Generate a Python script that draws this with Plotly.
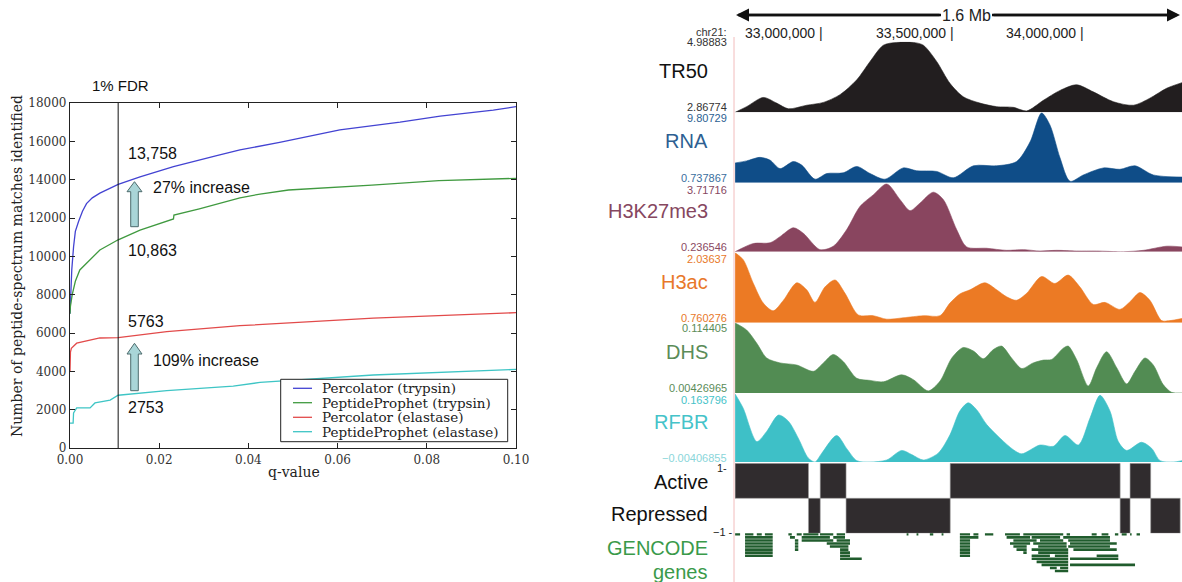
import plotly.graph_objects as go

W, H = 1182, 582


def px(x):
    return x / W


def py(y):
    return 1 - y / H


# ---------------- Left panel: PSMs identified vs q-value ----------------
q_perc_trypsin = [0, 0.0002, 0.0004, 0.0008, 0.0012, 0.0019, 0.0028, 0.0037, 0.0050, 0.0067,
                  0.0108, 0.0157, 0.0232, 0.0329, 0.0381, 0.0470, 0.0553, 0.0605, 0.0740,
                  0.0830, 0.0949, 0.1000]
n_perc_trypsin = [7000, 8700, 9300, 10500, 11300, 11800, 12350, 12750, 13050, 13300,
                  13758, 14150, 14680, 15250, 15550, 15950, 16350, 16600, 17000,
                  17320, 17630, 17810]

q_pp_trypsin = [0, 0.0001, 0.0005, 0.0012, 0.0022, 0.0045, 0.0067, 0.0108, 0.0157, 0.0232,
                0.0233, 0.0290, 0.0329, 0.0381, 0.0426, 0.0490, 0.0677, 0.0827, 0.1000]
n_pp_trypsin = [7000, 7400, 8000, 8700, 9290, 9800, 10330, 10863, 11370, 11950,
                12150, 12480, 12730, 13050, 13250, 13460, 13720, 13950, 14070]

q_perc_elastase = [0, 0.0001, 0.0003, 0.0015, 0.0067, 0.0108, 0.0217, 0.0381, 0.0680, 0.1000]
n_perc_elastase = [4000, 5000, 5200, 5470, 5740, 5763, 6070, 6380, 6780, 7060]

q_pp_elastase = [0, 0.0007, 0.0008, 0.0015, 0.0045, 0.0056, 0.0090, 0.0108, 0.0217, 0.0366,
                 0.0426, 0.0680, 0.1000]
n_pp_elastase = [1300, 1300, 1830, 2090, 2090, 2350, 2500, 2753, 2990, 3230,
                 3420, 3810, 4100]

series_names = ["Percolator (trypsin)", "PeptideProphet (trypsin)",
                "Percolator (elastase)", "PeptideProphet (elastase)"]
series_colors = ["#4343d2", "#409a40", "#e24a4a", "#3ec5c5"]

fdr_q = 0.0108
x_ticks = [0, 0.02, 0.04, 0.06, 0.08, 0.10]
y_ticks = list(range(0, 18001, 2000))

# ---------------- Right panel: genome browser tracks (chr21, Mb) ----------------
tr50_pos = [32.666, 32.710, 32.774, 32.825, 32.870, 32.940, 33.004, 33.068, 33.132, 33.183,
            33.234, 33.285, 33.349, 33.387, 33.438, 33.489, 33.540, 33.604, 33.668, 33.732,
            33.783, 33.847, 33.911, 33.974, 34.038, 34.115, 34.192, 34.255, 34.319, 34.378]
tr50_val = [0, 8, 21, 13, 5, 10, 14, 25, 46, 72, 95, 99, 99, 95, 72, 41, 22, 13, 8, 7,
            2, 17, 31, 39, 29, 15, 10, 20, 34, 42]

rna_pos = [32.666, 32.710, 32.761, 32.800, 32.838, 32.889, 32.921, 32.972, 33.017, 33.080,
           33.132, 33.183, 33.240, 33.310, 33.361, 33.438, 33.502, 33.579, 33.668, 33.744,
           33.796, 33.840, 33.872, 33.911, 33.949, 34.000, 34.077, 34.140, 34.198, 34.268, 34.378]
rna_val = [28, 31, 36, 32, 20, 30, 25, 5, 13, 14, 23, 13, 5, 21, 17, 16, 7, 24, 24, 30,
           58, 99, 82, 35, 2, 11, 21, 19, 24, 11, 8]

k27_pos = [32.666, 32.736, 32.800, 32.838, 32.889, 32.927, 32.991, 33.042, 33.093, 33.144,
           33.195, 33.247, 33.298, 33.336, 33.374, 33.425, 33.464, 33.515, 33.553, 33.630,
           33.706, 33.770, 33.834, 33.898, 33.974, 34.051, 34.153, 34.230, 34.319, 34.378]
k27_val = [0, 12, 13, 22, 35, 27, 3, 8, 32, 66, 83, 99, 76, 60, 71, 87, 76, 32, 7, 5,
           2, 3, 1, 2, 1, 1, 0, 2, 8, 7]

h3ac_pos = [32.666, 32.697, 32.736, 32.774, 32.812, 32.851, 32.902, 32.940, 32.972, 33.010,
            33.049, 33.087, 33.138, 33.195, 33.247, 33.310, 33.387, 33.451, 33.489, 33.527,
            33.566, 33.623, 33.668, 33.706, 33.744, 33.783, 33.840, 33.891, 33.942, 33.987,
            34.038, 34.083, 34.140, 34.179, 34.217, 34.255, 34.300, 34.332, 34.378]
h3ac_val = [100, 90, 56, 28, 17, 32, 57, 47, 29, 51, 61, 42, 11, 10, 5, 7, 10, 10, 28, 41,
            47, 57, 47, 37, 32, 42, 66, 56, 68, 51, 26, 29, 19, 30, 43, 32, 3, 3, 6]

dhs_pos = [32.666, 32.710, 32.749, 32.787, 32.838, 32.902, 32.966, 33.004, 33.042, 33.080,
           33.132, 33.183, 33.234, 33.304, 33.349, 33.406, 33.451, 33.496, 33.540, 33.579,
           33.617, 33.655, 33.687, 33.725, 33.764, 33.808, 33.847, 33.879, 33.923, 33.942,
           33.974, 34.019, 34.051, 34.089, 34.128, 34.166, 34.198, 34.236, 34.268, 34.306,
           34.338, 34.378]
dhs_val = [100, 90, 71, 50, 43, 40, 31, 43, 55, 45, 21, 18, 16, 26, 19, 3, 17, 50, 65, 60,
           49, 62, 67, 50, 35, 43, 47, 48, 64, 67, 48, 10, 36, 59, 36, 13, 31, 50, 40, 12,
           1, 0]

rfbr_pos = [32.666, 32.697, 32.749, 32.787, 32.832, 32.870, 32.908, 32.946, 32.972, 32.998,
            33.055, 33.093, 33.132, 33.183, 33.247, 33.304, 33.342, 33.387, 33.444, 33.489,
            33.527, 33.559, 33.591, 33.630, 33.681, 33.732, 33.764, 33.834, 33.885, 33.930,
            33.981, 34.026, 34.064, 34.102, 34.134, 34.166, 34.223, 34.262, 34.294, 34.345, 34.378]
rfbr_val = [100, 79, 30, 45, 69, 60, 35, 6, 0, 13, 39, 20, 2, 0, 3, 17, 11, 3, 13, 40,
            75, 87, 77, 55, 35, 18, 12, 25, 23, 39, 25, 65, 98, 75, 30, 17, 29, 20, 2, 0, 2]

track_names = ["TR50", "RNA", "H3K27me3", "H3ac", "DHS", "RFBR"]
track_max_labels = ["4.98883", "9.80729", "3.71716", "2.03637", "0.114405", "0.163796"]
track_min_labels = ["2.86774", "0.737867", "0.236546", "0.760276", "0.00426965", "\u22120.00406855"]
track_fill = ["#221e1f", "#0f4d88", "#89455f", "#ec7a24", "#528c53", "#3ec0c7"]
track_text = ["#111111", "#2d5f92", "#86475f", "#e8782a", "#5b8c58", "#45c3c9"]
track_min_text = ["#333333", "#3a6e9e", "#8b4a63", "#e8782a", "#5b8c58", "#8ad6da"]

state_start = [32.666, 32.947, 32.992, 33.091, 33.490, 34.141, 34.179, 34.258]
state_end = [32.947, 32.992, 33.091, 33.490, 34.141, 34.179, 34.258, 34.371]
state_value = [1, -1, 1, -1, 1, -1, 1, -1]   # 1 = Active, -1 = Repressed

gene_start = [32.666, 32.704, 32.749, 32.780, 32.870, 32.902, 32.927, 32.991, 33.055, 33.323,
              33.361, 33.412, 33.457, 33.527, 33.579, 33.623, 33.700, 33.770, 33.936, 34.032,
              34.070, 34.121, 34.147, 34.179, 34.204,
              32.704, 32.876, 32.921, 33.042, 33.527, 33.706, 33.802, 33.923,
              32.704, 32.895, 32.921, 33.055, 33.527, 33.732, 33.834, 33.942,
              32.704, 32.895, 33.017, 33.527, 33.719, 33.808, 33.949,
              32.704, 32.895, 33.029, 33.527, 33.732, 33.827, 33.942,
              32.704, 32.895, 33.068, 33.527, 33.744, 33.802, 33.962,
              32.704, 33.068, 33.527, 33.770, 33.827,
              32.704, 33.068, 33.527, 33.802, 33.891, 34.051,
              33.068, 33.802, 33.949,
              33.821,
              33.840, 33.949,
              33.872, 33.911,
              33.891]
gene_end = [32.685, 32.736, 32.768, 32.810, 32.883, 32.921, 32.985, 33.042, 33.087, 33.330,
            33.368, 33.425, 33.464, 33.566, 33.598, 33.655, 33.757, 33.923, 33.949, 34.051,
            34.096, 34.134, 34.166, 34.185, 34.217,
            32.810, 32.895, 33.029, 33.087, 33.598, 33.796, 33.911, 34.102,
            32.810, 32.908, 33.042, 33.106, 33.566, 33.821, 33.923, 34.102,
            32.810, 32.908, 33.106, 33.566, 33.796, 33.936, 34.128,
            32.810, 32.908, 33.100, 33.566, 33.783, 33.936, 34.102,
            32.810, 32.908, 33.100, 33.566, 33.783, 33.942, 34.128,
            32.810, 33.106, 33.566, 33.783, 33.942,
            32.810, 33.106, 33.566, 33.872, 33.942, 34.134,
            33.151, 33.942, 34.134,
            33.942,
            33.942, 34.198,
            33.898, 33.942,
            33.942]
gene_row = [0] * 25 + [1] * 8 + [2] * 8 + [3] * 7 + [4] * 7 + [5] * 7 + [6] * 5 + [7] * 6 \
    + [8] * 3 + [9] + [10] * 2 + [11] * 2 + [12]

genome_ticks = [33.0, 33.5, 34.0]
genome_tick_labels = ["33,000,000 |", "33,500,000 |", "34,000,000 |"]

# ================= Figure =================
fig = go.Figure()

left_q = [q_perc_trypsin, q_pp_trypsin, q_perc_elastase, q_pp_elastase]
left_n = [n_perc_trypsin, n_pp_trypsin, n_perc_elastase, n_pp_elastase]
for name, q, n, c in zip(series_names, left_q, left_n, series_colors):
    fig.add_trace(go.Scatter(x=q, y=n, name=name, mode="lines",
                             line=dict(color=c, width=1.3),
                             xaxis="x", yaxis="y", showlegend=False))

track_pos = [tr50_pos, rna_pos, k27_pos, h3ac_pos, dhs_pos, rfbr_pos]
track_val = [tr50_val, rna_val, k27_val, h3ac_val, dhs_val, rfbr_val]
for i, (nm, xs, ys, fc) in enumerate(zip(track_names, track_pos, track_val, track_fill)):
    fig.add_trace(go.Scatter(x=xs, y=ys, name=nm, mode="lines", line_shape="spline",
                             line=dict(color=fc, width=0.6, smoothing=0.8),
                             fill="tozeroy", fillcolor=fc,
                             xaxis="x2", yaxis=f"y{i + 2}", showlegend=False))

state_center = [(a + b) / 2 for a, b in zip(state_start, state_end)]
state_width = [b - a for a, b in zip(state_start, state_end)]
fig.add_trace(go.Bar(x=state_center, y=state_value, width=state_width,
                     marker=dict(color="#302c2e", line=dict(color="#9a9a9a", width=0.6)),
                     name="Chromatin state", xaxis="x2", yaxis="y8", showlegend=False))

gx, gy = [], []
for s, e, r in zip(gene_start, gene_end, gene_row):
    gx += [s, e, None]
    gy += [r, r, None]
fig.add_trace(go.Scatter(x=gx, y=gy, mode="lines", name="GENCODE genes",
                         line=dict(color="#205c2d", width=2.6),
                         xaxis="x2", yaxis="y9", showlegend=False))

serif = "DejaVu Serif"
sans = "Liberation Sans, Arial, sans-serif"

axis_common = dict(showline=True, linecolor="#222", linewidth=1.2, mirror="ticks",
                   ticks="inside", ticklen=5, tickcolor="#222", showgrid=False,
                   zeroline=False, automargin=False,
                   tickfont=dict(family=serif, size=12, color="#333"))

layout = dict(
    width=W, height=H, margin=dict(l=0, r=0, t=0, b=0, pad=0, autoexpand=False),
    paper_bgcolor="white", plot_bgcolor="white", showlegend=False,
    xaxis=dict(domain=[px(70), px(516)], range=[0, 0.1], tickvals=x_ticks,
               tickformat=".2f", anchor="y", **axis_common),
    yaxis=dict(domain=[py(448), py(103)], range=[0, 18000], tickvals=y_ticks,
               tickformat="d", anchor="x", **axis_common),
    xaxis2=dict(domain=[px(735), 1.0], range=[32.6655, 34.378], visible=False,
                anchor="y2", automargin=False),
)

track_px = [(41.7, 112.3), (112.3, 182.7), (183.3, 251.7), (252.7, 322.7),
            (323.0, 393.0), (394.0, 462.0)]
for i, (t, b) in enumerate(track_px):
    layout[f"yaxis{i + 2}"] = dict(domain=[py(b), py(t)], range=[0, 100],
                                   visible=False, anchor="x2", automargin=False)
layout["yaxis8"] = dict(domain=[py(533.3), py(463.3)], range=[-1, 1],
                        visible=False, anchor="x2", automargin=False)
layout["yaxis9"] = dict(domain=[py(575), py(533.3)], range=[13.3, -0.33],
                        visible=False, anchor="x2", automargin=False)
fig.update_layout(**layout)

ann = []


def add_text(text, x, y, size, color="#111", family=sans, xanchor="center",
             yanchor="middle", angle=0, xref="paper", **kw):
    ann.append(dict(text=text, x=x, y=y, xref=xref, yref="paper", showarrow=False,
                    font=dict(family=family, size=size, color=color),
                    xanchor=xanchor, yanchor=yanchor, textangle=angle,
                    borderpad=0, **kw))


# Left panel texts
add_text("1% FDR", px(120.3), py(85.7), 15)
add_text("13,758", px(127), py(153.3), 16, xanchor="left")
add_text("27% increase", px(151.5), py(187.3), 16, xanchor="left")
add_text("10,863", px(127), py(250), 16, xanchor="left")
add_text("5763", px(127), py(321.7), 16, xanchor="left")
add_text("109% increase", px(151.5), py(360), 16, xanchor="left")
add_text("2753", px(127), py(407.7), 16, xanchor="left")
add_text("Number of peptide-spectrum matches identified", px(17), py(266), 14,
         color="#222", family=serif, angle=-90)
add_text("q-value", px(294), py(471.7), 14, color="#222", family=serif)

# Legend (drawn box)
leg_y = [388.3, 402.7, 417.3, 431.7]
for name, c, yy in zip(series_names, series_colors, leg_y):
    add_text(name, px(321), py(yy), 13.5, color="#222", family=serif, xanchor="left")

# Right panel texts
name_y = [70.7, 141, 211, 281.7, 351.7, 421.7]
for nm, yy, col in zip(track_names, name_y, track_text):
    add_text(nm, px(709), py(yy), 20, color=col, xanchor="right")
add_text("Active", px(709), py(482.3), 20, xanchor="right")
add_text("Repressed", px(709), py(514), 20, xanchor="right")
add_text("GENCODE", px(709), py(547.7), 20, color="#3a9a4a", xanchor="right")
add_text("genes", px(709), py(571.5), 20, color="#3a9a4a", xanchor="right")

max_y = [42, 118.3, 190, 259, 328.3, 400]
min_y = [107, 178.3, 247.3, 318.3, 388.3, 457.5]
for lab, yy, col in zip(track_max_labels, max_y, track_text):
    add_text(lab, px(728), py(yy), 11, color="#333" if col == "#111111" else col,
             xanchor="right")
for lab, yy, col in zip(track_min_labels, min_y, track_min_text):
    add_text(lab, px(728), py(yy), 11, color=col, xanchor="right")
add_text("chr21:", px(728), py(32), 11, color="#333", xanchor="right")
add_text("1-", px(728), py(467.5), 11, color="#222", xanchor="right")
add_text("\u22121 -", px(734), py(532.3), 11, color="#222", xanchor="right")

for pos, lab in zip(genome_ticks, genome_tick_labels):
    add_text(lab, pos + 0.007, py(33), 14, color="#222", xanchor="right", xref="x2")

# scale bar arrows
ann.append(dict(x=px(736), y=py(15), xref="paper", yref="paper", text="", showarrow=True,
                ax=205, ay=0, arrowhead=2, arrowsize=1, arrowwidth=2.6, arrowcolor="#111"))
ann.append(dict(x=px(1180), y=py(15), xref="paper", yref="paper", text="", showarrow=True,
                ax=-188, ay=0, arrowhead=2, arrowsize=1, arrowwidth=2.6, arrowcolor="#111"))
add_text("1.6 Mb", px(966.7), py(15), 16, color="#222")

fig.update_layout(annotations=ann)

shapes = []
# 1% FDR line
shapes.append(dict(type="line", xref="x", yref="y", x0=fdr_q, x1=fdr_q, y0=0, y1=18000,
                   line=dict(color="#111", width=1)))


def block_arrow(cx, tip, head, bottom):
    pts = [(cx - 3.8, bottom), (cx - 3.8, head), (cx - 7.5, head), (cx, tip),
           (cx + 7.5, head), (cx + 3.8, head), (cx + 3.8, bottom)]
    d = "M " + " L ".join(f"{px(a):.5f},{py(b):.5f}" for a, b in pts) + " Z"
    return dict(type="path", xref="paper", yref="paper", path=d,
                fillcolor="#a9d5d7", line=dict(color="#4d6b6c", width=1))


shapes.append(block_arrow(134.5, 181.7, 191.7, 226.7))
shapes.append(block_arrow(134.5, 343.3, 354.0, 390.7))

# legend box
shapes.append(dict(type="rect", xref="paper", yref="paper", x0=px(280.7), x1=px(507.7),
                   y0=py(441.7), y1=py(379.3), fillcolor="white",
                   line=dict(color="#222", width=1), layer="above"))
for c, yy in zip(series_colors, leg_y):
    shapes.append(dict(type="line", xref="paper", yref="paper", x0=px(293), x1=px(312),
                       y0=py(yy), y1=py(yy), line=dict(color=c, width=1.3), layer="above"))

# pink left border of browser tracks
shapes.append(dict(type="line", xref="paper", yref="paper", x0=px(734), x1=px(734),
                   y0=0, y1=py(37), line=dict(color="#f2bcbc", width=1)))
# scale bar lines
shapes.append(dict(type="line", xref="paper", yref="paper", x0=px(738), x1=px(941),
                   y0=py(15), y1=py(15), line=dict(color="#111", width=2.6)))
shapes.append(dict(type="line", xref="paper", yref="paper", x0=px(992), x1=px(1176),
                   y0=py(15), y1=py(15), line=dict(color="#111", width=2.6)))

fig.update_layout(shapes=shapes)

fig.write_html("out.html")
